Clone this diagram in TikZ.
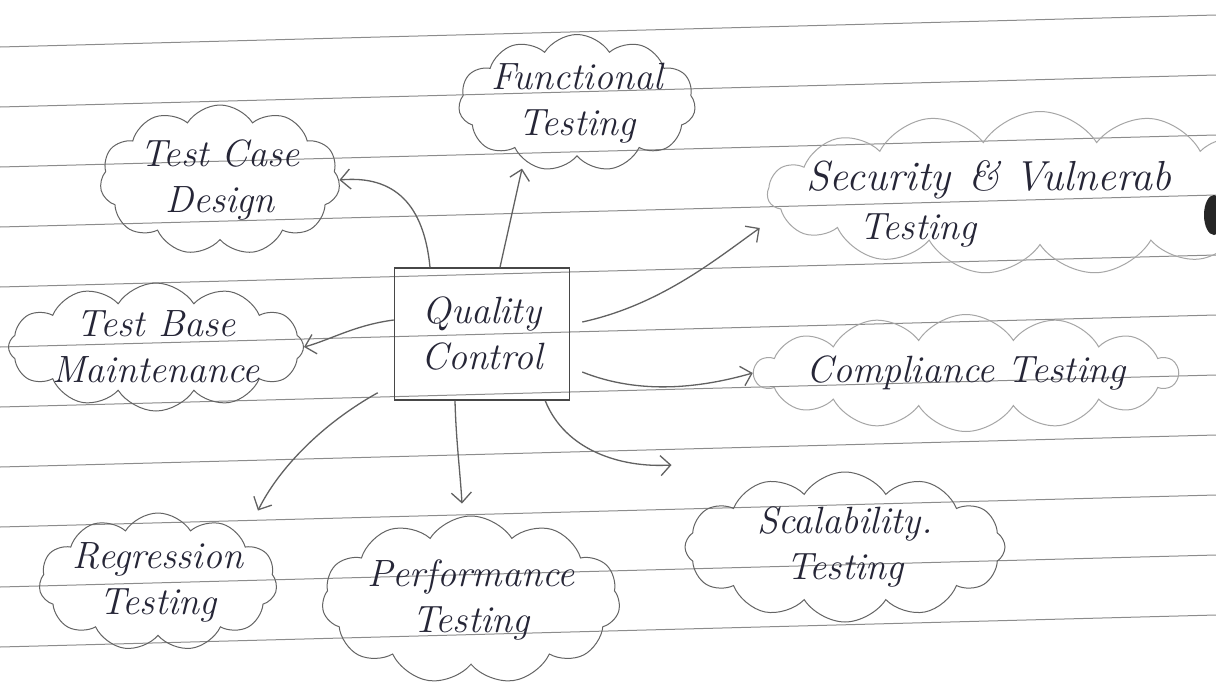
\documentclass[tikz,border=0pt]{standalone}
\usetikzlibrary{shapes.symbols,arrows.meta}
\definecolor{ink}{RGB}{38,38,55}
\definecolor{pencil}{RGB}{100,100,100}
\newcommand\handfont{\fontsize{38}{46}\selectfont\itshape}
\newcommand\zbox[1]{\makebox[0pt]{#1}}
\begin{document}
\begin{tikzpicture}[x=1pt,y=-1pt,
  rule/.style={black!45, line width=1pt},
  cloudbox/.style={cloud, cloud puffs=#1, cloud puff arc=115, cloud ignores aspect,
    draw=pencil, line width=1pt, inner sep=0pt, align=center, font=\handfont, text=ink},
  lightcloud/.style={cloudbox=#1, draw=black!35},
  qcbox/.style={draw=black!72, line width=1.5pt, inner sep=0pt, align=center,
    font=\handfont, text=ink},
  conn/.style={draw=black!62, line width=1.3pt,
    -{Straight Barb[length=10pt,width=20pt,line width=1.3pt]}},
  lbl/.style={inner sep=0pt, font=\handfont, text=ink}]
\useasboundingbox (0,0) rectangle (1216,686);
\fill[white] (0,0) rectangle (1216,686);
\begin{scope}
\clip (0,0) rectangle (1216,686);
% ruled paper
\foreach \k in {0,...,10}{
  \draw[rule] (0,{47+60*\k}) -- (1216,{15+60*\k});
}
% central box
\node[qcbox, minimum width=175pt, minimum height=132pt] (qc) at (482,334) {\zbox{Quality}\\\zbox{Control}};
% clouds
\node[cloudbox=11, minimum width=237pt, minimum height=137pt] (func) at (577,103) {\zbox{Functional}\\\zbox{Testing}};
\node[cloudbox=11, minimum width=240pt, minimum height=150pt] (tcd) at (220,180) {\zbox{Test Case}\\\zbox{Design}};
\node[lightcloud=15, minimum width=545pt, minimum height=163pt] (sec) at (1040,193) {};
\node[lbl, anchor=west, font=\fontsize{42}{46}\selectfont\itshape] (secA) at (806,180) {Security\hspace{18pt}\&\hspace{14pt}Vulnerab};
\node[lbl] (secB) at (918,230) {Testing};
\node[cloudbox=12, minimum width=295pt, minimum height=128pt] (tbm) at (156,347) {\zbox{Test Base}\\\zbox{Maintenance}};
\node[lightcloud=14, minimum width=423pt, minimum height=117pt] (comp) at (966,373) {\zbox{Compliance Testing}};
\node[cloudbox=11, minimum width=238pt, minimum height=138pt] (reg) at (158,582) {\zbox{Regression}\\\zbox{Testing}};
\node[cloudbox=11, minimum width=298pt, minimum height=168pt] (perf) at (471,600) {\zbox{Performance}\\\zbox{Testing}};
\node[cloudbox=12, minimum width=320pt, minimum height=150pt] (scal) at (845,547) {\zbox{Scalability.}\\\zbox{Testing}};
% dark spot at the right edge
\fill[black!85] (1214,215) ellipse [x radius=10pt, y radius=20pt];
% connectors
\draw[conn] ([xshift=-52pt]qc.north) .. controls (424,205) and (395,175) .. (tcd.east);
\draw[conn] ([xshift=18pt]qc.north) -- ([xshift=-55pt,yshift=-12pt]func.south);
\draw[conn] ([xshift=12pt,yshift=12pt]qc.east) .. controls (660,305) and (715,260) .. ([xshift=-7pt,yshift=-35pt]sec.west);
\draw[conn] ([yshift=14pt]qc.west) .. controls (355,325) and (330,340) .. (tbm.east);
\draw[conn] ([xshift=12pt,yshift=-38pt]qc.east) .. controls (640,395) and (700,388) .. (comp.west);
\draw[conn] ([xshift=-16pt,yshift=8pt]qc.south west) .. controls (320,425) and (278,470) .. ([xshift=100pt,yshift=2pt]reg.north);
\draw[conn] ([xshift=-27pt]qc.south) .. controls (456,440) and (460,470) .. ([xshift=-9pt,yshift=12pt]perf.north);
\draw[conn] ([xshift=-25pt]qc.south east) .. controls (565,450) and (620,468) .. ([xshift=-13pt,yshift=82pt]scal.west);
\end{scope}
\end{tikzpicture}
\end{document}
